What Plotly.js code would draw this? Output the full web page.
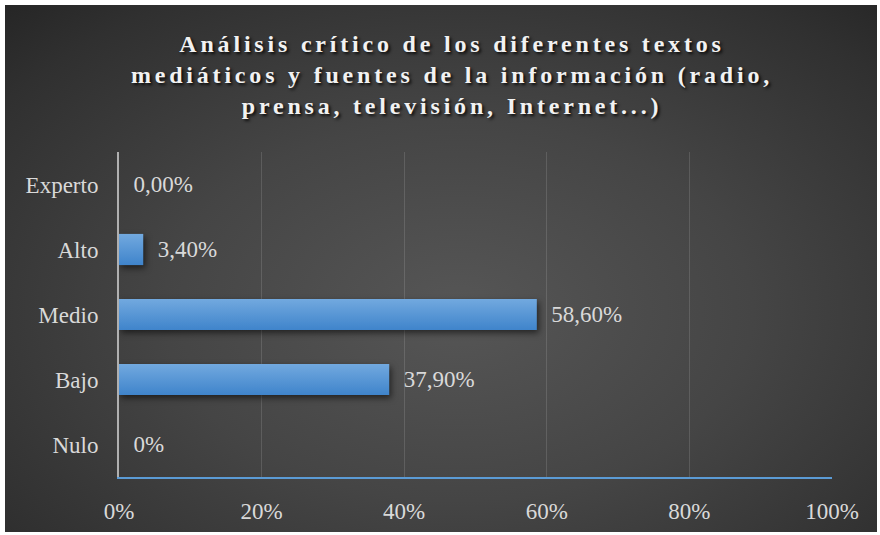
<!DOCTYPE html>
<html>
<head>
<meta charset="utf-8">
<script src="https://cdn.plot.ly/plotly-3.0.1.min.js"></script>
<style>
  html, body { margin: 0; padding: 0; background: #ffffff; }
  #bg {
    position: absolute; left: 5px; top: 5px; width: 872px; height: 527px;
    background: radial-gradient(ellipse 75% 80% at 52% 58%, #565656 0%, #454545 45%, #303030 85%, #262626 100%);
  }
  #chart { position: absolute; left: 0; top: 0; width: 880px; height: 535px; }
  .gtitle { letter-spacing: 3.8px; }
  .bars path {
    fill: url(#barGrad) !important;
    filter: drop-shadow(2px 3px 3px rgba(0,0,0,0.55));
  }
</style>
</head>
<body>
<svg width="0" height="0" style="position:absolute">
  <defs>
    <linearGradient id="barGrad" x1="0" y1="0" x2="0" y2="1">
      <stop offset="0%" stop-color="#72a9df"/>
      <stop offset="100%" stop-color="#3f84cb"/>
    </linearGradient>
  </defs>
</svg>
<div id="bg"></div>
<div id="chart"></div>
<script>
// Data (bottom to top)
const categories = ['Nulo', 'Bajo', 'Medio', 'Alto', 'Experto'];
const values = [0, 37.9, 58.6, 3.4, 0];
const valueLabels = ['0%', '37,90%', '58,60%', '3,40%', '0,00%'];
const xTickValues = [0, 20, 40, 60, 80, 100];
const xTickLabels = ['0%', '20%', '40%', '60%', '80%', '100%'];
const titleText = 'Análisis crítico de los diferentes textos<br>mediáticos y fuentes de la información (radio,<br>prensa, televisión, Internet...)';

const serif = 'Liberation Serif';
const labelColor = '#d9d9d9';

const trace = {
  type: 'bar',
  orientation: 'h',
  y: categories,
  x: values,
  text: valueLabels.map(s => '\u00a0\u00a0' + s),
  textposition: 'outside',
  cliponaxis: false,
  textfont: { family: serif, size: 23, color: labelColor },
  marker: { color: '#5596d8', line: { width: 0 } },
  hoverinfo: 'skip'
};

const layout = {
  width: 880,
  height: 535,
  paper_bgcolor: 'rgba(0,0,0,0)',
  plot_bgcolor: 'rgba(0,0,0,0)',
  margin: { l: 119, r: 48, t: 152, b: 58 },
  bargap: 0.52,
  showlegend: false,
  font: { family: serif },
  title: {
    text: titleText,
    font: { family: serif, size: 24, color: '#f2f2f2', weight: 'bold', shadow: '2px 2px 3px rgba(0,0,0,0.8)' },
    x: 452 / 880,
    xanchor: 'center',
    y: 1 - 52 / 535,
    yanchor: 'top',
    yref: 'container'
  },
  xaxis: {
    range: [0, 100],
    tickvals: xTickValues,
    ticktext: xTickLabels,
    showgrid: true,
    gridcolor: 'rgba(255,255,255,0.13)',
    gridwidth: 1,
    zeroline: false,
    showline: true,
    linecolor: '#5b9bd5',
    linewidth: 2,
    ticks: '',
    ticklabelstandoff: 12,
    tickfont: { family: serif, size: 23, color: labelColor },
    fixedrange: true
  },
  yaxis: {
    type: 'category',
    categoryorder: 'array',
    categoryarray: categories,
    showgrid: false,
    zeroline: false,
    showline: true,
    linecolor: '#b0b0b0',
    linewidth: 2,
    ticks: '',
    ticklabelstandoff: 14,
    tickfont: { family: serif, size: 23, color: labelColor },
    fixedrange: true
  }
};

Plotly.newPlot('chart', [trace], layout, { displayModeBar: false, staticPlot: true });
</script>
</body>
</html>
